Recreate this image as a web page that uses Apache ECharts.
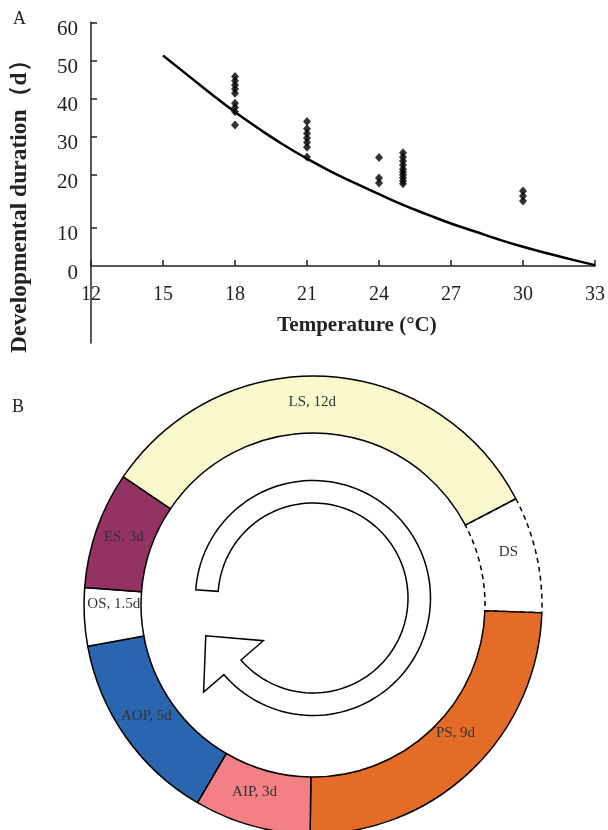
<!DOCTYPE html>
<html><head><meta charset="utf-8">
<script src="https://cdn.jsdelivr.net/npm/echarts@6/dist/echarts.min.js"></script>
<style>html,body{margin:0;padding:0;background:#fff}#c{width:608px;height:830px}</style>
</head><body><div id="c"></div>
<script>
// ---------- Panel A data ----------
const xTicks = [12, 15, 18, 21, 24, 27, 30, 33];
const yTickLabels = ['0', '10', '20', '30', '40', '50', '60'];
const obsTemps = [18, 21, 24, 25, 30];
const dur18 = [45.8, 44.7, 43.6, 42.5, 41.4, 38.8, 37.7, 36.6, 33.1];
const dur21 = [34.0, 32.1, 30.9, 29.7, 28.5, 27.3, 24.7];
const dur24 = [24.6, 19.2, 17.9];
const dur25 = [25.8, 24.7, 23.7, 22.6, 21.6, 20.8, 20.0, 19.2, 18.4, 17.7];
const dur30 = [15.8, 14.5, 13.2];
const curveTemps = [15, 16, 17, 18, 19, 20, 21, 22, 23, 24, 25, 26, 27, 28, 29, 30, 31, 32, 33];
const curveDur = [51.3, 46.3, 41.3, 36.5, 32.1, 28.0, 24.3, 20.9, 17.9, 15.0, 12.2, 9.7, 7.3, 5.2, 3.1, 1.2, -0.5, -2.1, -3.6];

// ---------- Panel B data ----------
const stageNames = ['LS', 'DS', 'PS', 'AIP', 'AOP', 'OS', 'ES'];
const stageDays = [12, 3, 9, 3, 5, 1.5, 3];
const stageLabels = ['LS, 12d', 'DS', 'PS, 9d', 'AIP, 3d', 'AOP, 5d', 'OS, 1.5d', 'ES, 3d'];

// ---------- styles ----------
const SERIF = '"Liberation Serif", "Times New Roman", serif';
const stageStyle = {
  LS: { color: '#FAF8CD' }, DS: { color: 'rgba(255,255,255,0)', borderType: [5, 4] },
  PS: { color: '#E46C26' }, AIP: { color: '#F28084' }, AOP: { color: '#2A66AF' },
  OS: { color: '#FFFFFF' }, ES: { color: '#943263' }
};
const stageLabelShift = {
  LS: [-12, 0], DS: [-3, -8], PS: [2, -19], AIP: [-4, -9], AOP: [0, -6], OS: [4, -12], ES: [3, -1]
};

// the reference's y axis is drawn unevenly: 0 and 10 sit lower than a linear scale would put them
const yLabelAt = [-3.83, 6.2, 20, 30, 40, 50, 60];

const scatterData = [];
[dur18, dur21, dur24, dur25, dur30].forEach((arr, i) => arr.forEach(v => scatterData.push([obsTemps[i], v])));
const curveData = curveTemps.map((t, i) => [t, curveDur[i]]);

// circular arrow (decoration)
function arrowPoints() {
  const cx = 313, cy = 598, ro = 117.5, ri = 95, a0 = 176, a1 = -139.3;
  const pt = (r, a) => [cx + r * Math.cos(a * Math.PI / 180), cy - r * Math.sin(a * Math.PI / 180)];
  const pts = [];
  const n = 120;
  for (let k = 0; k <= n; k++) pts.push(pt(ro, a0 + (a1 - a0) * k / n));
  pts.push(pt(144.3, a1));
  pts.push(pt(113.7, -160.6));
  pts.push(pt(65.5, a1));
  for (let k = n; k >= 0; k--) pts.push(pt(ri, a0 + (a1 - a0) * k / n));
  return pts;
}

const chart = echarts.init(document.getElementById('c'), null, { renderer: 'canvas' });
chart.setOption({
  animation: false,
  backgroundColor: '#fff',
  grid: { left: 88, right: 4, top: 22.3, bottom: 487, containLabel: false },
  xAxis: {
    type: 'value', min: 12, max: 33, interval: 3, position: 'bottom', offset: -77,
    axisLine: { onZero: false, lineStyle: { color: '#222', width: 1.5 } },
    axisTick: { inside: true, length: 6, lineStyle: { color: '#222', width: 1.5 } },
    axisLabel: { margin: 19, fontSize: 20, color: '#222', fontFamily: SERIF, showMaxLabel: true, showMinLabel: true },
    splitLine: { show: false },
    name: 'Temperature (°C)', nameLocation: 'middle', nameGap: 49,
    nameTextStyle: { fontFamily: SERIF, fontWeight: 'bold', fontSize: 21, color: '#222', padding: [0, 0, 0, 28] }
  },
  yAxis: {
    type: 'value', min: -24, max: 60,
    axisLine: { show: true, lineStyle: { color: '#222', width: 1.5 } },
    axisTick: { inside: true, length: 6, customValues: yLabelAt.slice(1), lineStyle: { color: '#222', width: 1.5 } },
    axisLabel: {
      customValues: yLabelAt, margin: 13, fontSize: 21, color: '#222', fontFamily: SERIF,
      verticalAlign: 'top', lineHeight: 14,
      formatter: v => {
        let best = 0;
        yLabelAt.forEach((p, i) => { if (Math.abs(p - v) < Math.abs(yLabelAt[best] - v)) best = i; });
        return yTickLabels[best];
      }
    },
    splitLine: { show: false },
    name: 'Developmental duration（d）', nameLocation: 'middle', nameGap: 59,
    nameTextStyle: { fontFamily: SERIF, fontWeight: 'bold', fontSize: 23.5, color: '#222', padding: [0, 36, 0, 0] }
  },
  series: [
    {
      type: 'line', data: curveData, smooth: true, showSymbol: false, symbol: 'none',
      lineStyle: { color: '#000', width: 2.5 }, z: 2
    },
    {
      type: 'scatter', data: scatterData, symbol: 'diamond', symbolSize: [8, 9],
      itemStyle: { color: '#000' }, z: 3
    },
    {
      type: 'pie', center: [313, 605], radius: [172, 229], startAngle: 146, clockwise: true,
      avoidLabelOverlap: false, silent: true,
      data: stageNames.map((n, i) => ({
        name: n, value: stageDays[i],
        itemStyle: Object.assign({ borderColor: '#000', borderWidth: 1.5 }, stageStyle[n]),
        label: { formatter: stageLabels[i], offset: stageLabelShift[n] }
      })),
      label: { show: true, position: 'inside', fontFamily: SERIF, fontSize: 15, color: '#333' },
      labelLine: { show: false },
      emphasis: { disabled: true }
    }
  ],
  graphic: [
    { type: 'text', left: 13, top: 10, style: { text: 'A', font: '18px ' + SERIF, fill: '#222' } },
    { type: 'text', left: 12, top: 398, style: { text: 'B', font: '18px ' + SERIF, fill: '#222' } },
    { type: 'polygon', shape: { points: arrowPoints() }, style: { fill: '#fff', stroke: '#000', lineWidth: 1.5 }, z: 10 }
  ]
});
</script>
</body></html>
